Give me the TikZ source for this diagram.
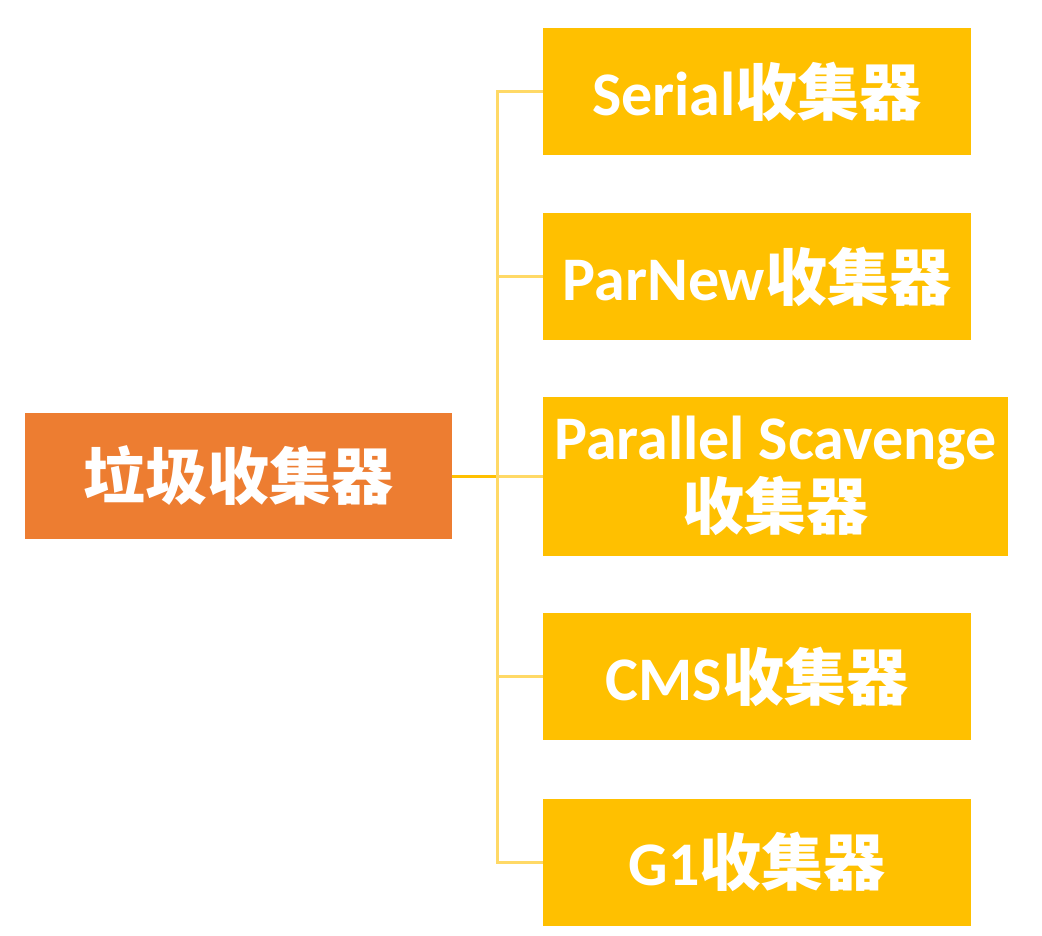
\documentclass[tikz,border=0pt]{standalone}
\usepackage{fontspec}
\setmainfont{Carlito}
\newfontfamily\cjk{Noto Sans CJK SC}
\usetikzlibrary{positioning}
\definecolor{gcorange}{HTML}{ED7D31}
\definecolor{gcyellow}{HTML}{FFC000}
\definecolor{gcline}{HTML}{FFD966}

\begin{document}
\begin{tikzpicture}[x=1pt,y=1pt,node distance=57pt]
      \tikzset{Root/.style = {fill = gcorange,
          text  = white,
          font  = \bfseries\fontsize{62}{72}\selectfont,
          minimum width = 427pt, minimum height = 126pt, inner sep = 0pt},
        Kind/.style = {fill = gcyellow,
          text  = white, align = center,
          font  = \bfseries\fontsize{62}{70}\selectfont,
          minimum width = 428pt, minimum height = 127pt, inner sep = 0pt},
        Link/.style = {draw = gcline, line width = 3pt}}
      \useasboundingbox (0,0) rectangle (1042,-936);
      \node[Root] (GC) at (238.5,-476) {\cjk 垃圾收集器};
      \node[Kind] (Serial) at (757,-91.5) {Serial{\cjk 收集器}};
      \node[Kind, below=58pt of Serial] (ParNew) {ParNew{\cjk 收集器}};
      \node[Kind, below=56pt of ParNew.south west, anchor=north west,
        minimum width=465pt, minimum height=159pt] (Parallel)
        {Parallel Scavenge\\{\cjk 收集器}};
      \node[Kind, below=57pt of Parallel.south west, anchor=north west] (CMS) {CMS{\cjk 收集器}};
      \node[Kind, below=58pt of CMS] (G1) {G1{\cjk 收集器}};
      \coordinate (Trunk) at (497,-476);
      \draw[Link, draw=gcyellow] (GC.east) -- (Trunk);
      \draw[Link] (Serial.west) -- (Serial.west -| Trunk) -- (G1.west -| Trunk) -- (G1.west);
      \foreach \k in {ParNew, Parallel, CMS}
        \draw[Link] (\k.west) -- (\k.west -| Trunk);
    \end{tikzpicture}
\end{document}
